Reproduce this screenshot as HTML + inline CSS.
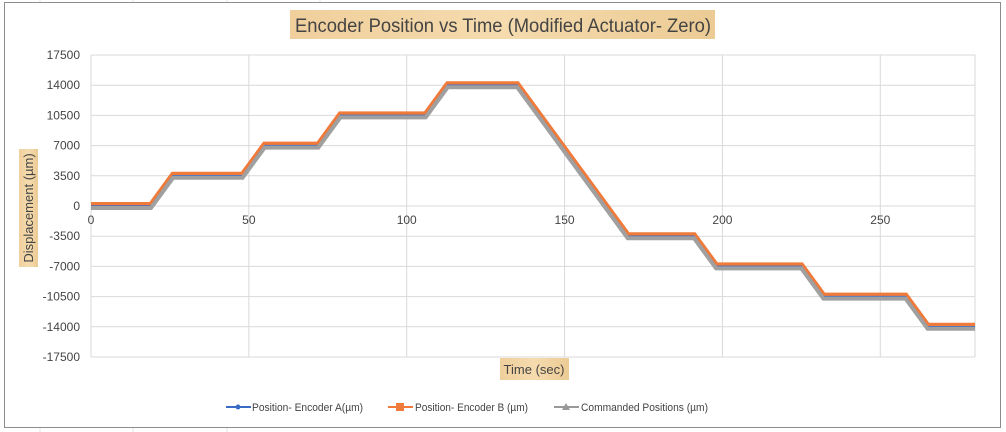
<!DOCTYPE html>
<html><head><meta charset="utf-8"><style>
body{margin:0;width:1006px;height:432px;overflow:hidden;background:#fff;font-family:"Liberation Sans",sans-serif}
</style></head><body>
<svg width="1006" height="432" style="position:absolute;left:0;top:0">
<g stroke="#e3e3e3" stroke-width="1">
<line x1="40" y1="0" x2="40" y2="4"/><line x1="133" y1="0" x2="133" y2="4"/><line x1="227" y1="0" x2="227" y2="4"/><line x1="320" y1="0" x2="320" y2="4"/>
<line x1="40" y1="428" x2="40" y2="432"/><line x1="133" y1="428" x2="133" y2="432"/><line x1="227" y1="428" x2="227" y2="432"/>
</g>
<rect x="4.5" y="2.5" width="996" height="425" fill="#fff" stroke="#8c8c8c"/>
<defs><linearGradient id="tan" x1="0" x2="1"><stop offset="0" stop-color="#f0cf9c"/><stop offset="0.5" stop-color="#f5dbae"/><stop offset="1" stop-color="#eccb94"/></linearGradient></defs>
<rect x="290" y="10" width="425" height="29" fill="url(#tan)"/>
<text x="503" y="32" text-anchor="middle" font-size="19" fill="#444" textLength="416" lengthAdjust="spacingAndGlyphs">Encoder Position vs Time (Modified Actuator- Zero)</text>
<g id="grid"></g>
<g id="ylab" font-size="12" fill="#444" text-anchor="end"></g>
<g id="xlab" font-size="12" fill="#444" text-anchor="middle"></g>
<g id="series"></g>
<rect x="19" y="149" width="19" height="118" fill="url(#tan)"/>
<text transform="translate(33,208) rotate(-90)" text-anchor="middle" font-size="13" fill="#444">Displacement  (µm)</text>
<rect x="500" y="358" width="69" height="22" fill="url(#tan)"/>
<text x="534" y="374" text-anchor="middle" font-size="13" fill="#444">Time (sec)</text>
<g font-size="11" fill="#444">
<g><line x1="226" y1="407" x2="251" y2="407" stroke="#3a6cc6" stroke-width="2"/><circle cx="238" cy="407" r="2.5" fill="#3a6cc6"/><text x="252" y="411" textLength="111" lengthAdjust="spacingAndGlyphs">Position- Encoder A(µm)</text></g>
<g><line x1="388" y1="407" x2="413" y2="407" stroke="#f07a3a" stroke-width="2"/><rect x="396" y="403" width="8" height="8" fill="#f07a3a"/><text x="415" y="411" textLength="113" lengthAdjust="spacingAndGlyphs">Position- Encoder B (µm)</text></g>
<g><line x1="554" y1="407" x2="579" y2="407" stroke="#999" stroke-width="2"/><polygon points="566,403 570,410 562,410" fill="#999"/><text x="581" y="411" textLength="127" lengthAdjust="spacingAndGlyphs">Commanded Positions (µm)</text></g>
</g>
</svg>
<script>
const times=[0,19,26,48,55,72,79,106,113,135,170,191,198,225,232,258,265,280];
const commanded=[0,0,3500,3500,7000,7000,10500,10500,14000,14000,-3500,-3500,-7000,-7000,-10500,-10500,-14000,-14000];
const encoderB=[0,0,3500,3500,7000,7000,10500,10500,14000,14000,-3500,-3500,-7000,-7000,-10500,-10500,-14000,-14000];
const encoderA=[0,0,3500,3500,7000,7000,10500,10500,14000,14000,-3500,-3500,-7000,-7000,-10500,-10500,-14000,-14000];
const yTicks=[17500,14000,10500,7000,3500,0,-3500,-7000,-10500,-14000,-17500];
const xTicks=[0,50,100,150,200,250];
const X0=91,X1=975,XMAX=280,Y0=55,Y1=357,YMAX=17500,YMIN=-17500;
const sx=t=>X0+(X1-X0)*t/XMAX;
const sy=v=>Y0+(Y1-Y0)*(YMAX-v)/(YMAX-YMIN);
const NS="http://www.w3.org/2000/svg";
function mk(tag,attrs,parent){const e=document.createElementNS(NS,tag);for(const k in attrs)e.setAttribute(k,attrs[k]);parent.appendChild(e);return e;}
const grid=document.getElementById('grid'),ylab=document.getElementById('ylab'),xlab=document.getElementById('xlab'),ser=document.getElementById('series');
yTicks.forEach(v=>{const l=mk('line',{x1:X0,x2:X1,y1:sy(v),y2:sy(v),stroke:'#d9d9d9'},grid);


const t=mk('text',{x:80,y:sy(v)+4},ylab);t.textContent=v;

});
xTicks.concat([XMAX]).forEach(v=>{const l=mk('line',{x1:sx(v),x2:sx(v),y1:Y0,y2:Y1,stroke:'#d9d9d9'},grid);

});
xTicks.forEach(v=>{const t=mk('text',{x:sx(v),y:sy(0)+18},xlab);t.textContent=v;

});
function pts(arr,dy){return times.map((t,i)=>sx(t)+','+(sy(arr[i])+dy)).join(' ');}
const pb=mk('polyline',{points:pts(encoderB,-1),fill:'none',stroke:'#f07a3a','stroke-width':6},ser);


const pa=mk('polyline',{points:pts(encoderA,0),fill:'none',stroke:'#3a6cc6','stroke-width':1.5},ser);


const pc=mk('polyline',{points:pts(commanded,2),fill:'none',stroke:'#a0a0a0','stroke-width':4},ser);


</script>
</body></html>
